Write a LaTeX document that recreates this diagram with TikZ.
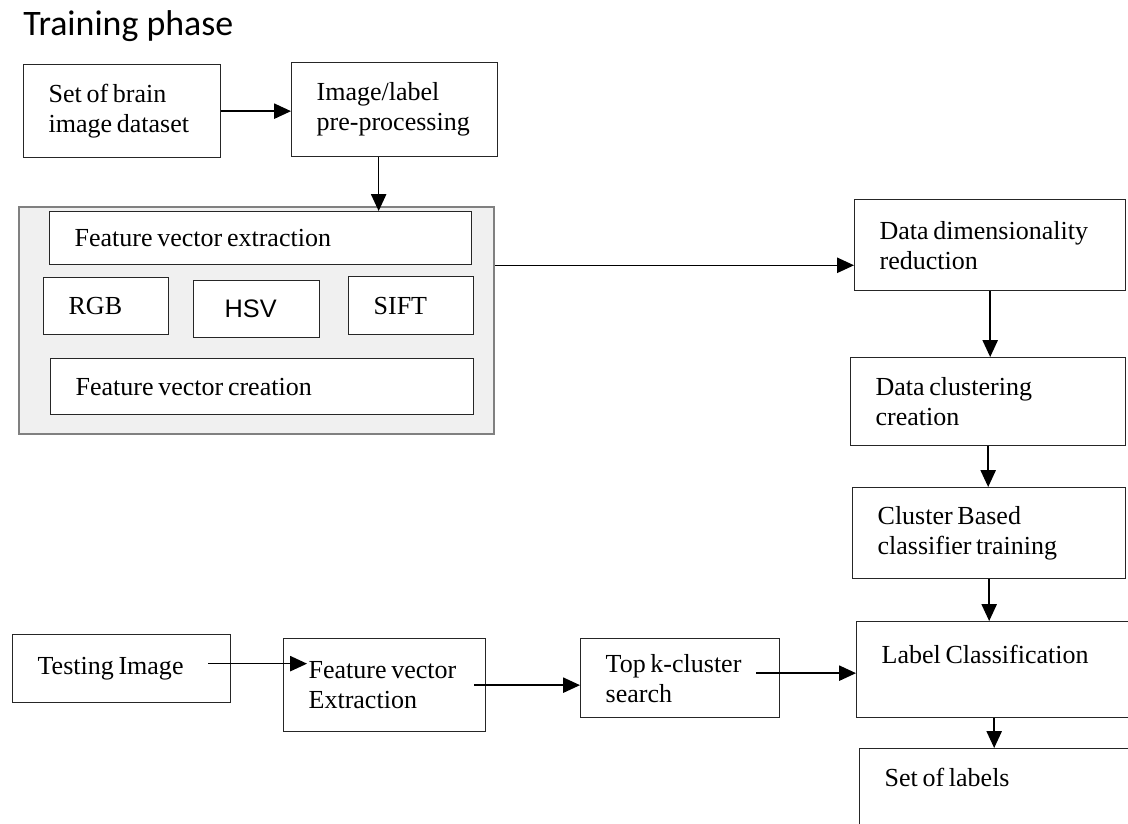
\documentclass[tikz,border=0pt]{standalone}
\usepackage{fontspec}
\setmainfont{Liberation Serif}
\newfontfamily\titlefont{Carlito}
\newfontfamily\hsvfont{Liberation Sans}
\usetikzlibrary{arrows.meta}

\begin{document}
\begin{tikzpicture}[x=0.025cm, y=-0.025cm,
  box/.style={draw=black!85, line width=0.9pt, fill=white, anchor=north west, align=left, inner xsep=0.625cm,
    font=\fontsize{18.5}{21.3}\selectfont, execute at begin node={\spaceskip=0.18em\relax}},
  group/.style={draw=gray, line width=1.6pt, fill=black!6, anchor=north west, inner sep=0pt},
  arr/.style={-{Triangle[length=0.42cm, width=0.38cm]}, line width=1pt}]

\useasboundingbox (0,0) rectangle (1128,823);

\node[anchor=base west, inner sep=0pt, font=\titlefont\fontsize{25.5}{29}\selectfont] (title) at (23,35) {Training phase};

% training part
\node[box, minimum width=4.925cm, minimum height=2.325cm, text width=3.675cm] (dataset) at (23,64) {Set of brain\\image dataset};
\node[box, minimum width=5.15cm, minimum height=2.35cm, text width=3.9cm] (preproc) at (291,62) {Image/label\\pre-processing};

\node[group, minimum width=11.875cm, minimum height=5.675cm] (features) at (18,206) {};
\node[box, minimum width=10.55cm, minimum height=1.325cm, text width=9.3cm] (fvext) at (49,211) {Feature vector extraction};
\node[box, minimum width=3.125cm, minimum height=1.425cm, text width=1.875cm] (rgb) at (43,277) {RGB};
\node[box, minimum width=3.15cm, minimum height=1.425cm, text width=1.9cm, font=\hsvfont\fontsize{18}{21.3}\selectfont] (hsv) at (193,280) {\hspace{0.15cm}HSV};
\node[box, minimum width=3.125cm, minimum height=1.45cm, text width=1.875cm] (sift) at (348,276) {SIFT};
\node[box, minimum width=10.575cm, minimum height=1.4cm, text width=9.325cm] (fvcre) at (50,358) {Feature vector creation};

\node[box, minimum width=6.775cm, minimum height=2.275cm, text width=5.525cm] (dimred) at (854,199) {Data dimensionality\\reduction};
\node[box, minimum width=6.875cm, minimum height=2.2cm, text width=5.625cm] (cluster) at (850,357) {Data clustering\\creation};
\node[box, minimum width=6.825cm, minimum height=2.275cm, text width=5.575cm] (train) at (852,487) {Cluster Based\\classifier training};

% testing part
\node[box, minimum width=5.45cm, minimum height=1.7cm, text width=4.2cm] (test) at (12,634) {Testing Image};
\node[box, minimum width=5.05cm, minimum height=2.325cm, text width=3.8cm] (fvext2) at (283,638) {Feature vector\\Extraction};
\node[box, minimum width=4.975cm, minimum height=1.975cm, text width=3.725cm] (topk) at (580,638) {Top k-cluster\\search};
\node[box, minimum width=6.875cm, minimum height=2.4cm, text width=5.625cm] (classify) at (856,621) {Label Classification\\\mbox{}};
\node[box, minimum width=6.8cm, minimum height=2.2cm, text width=5.55cm] (labels) at (859,748) {Set of labels\\\mbox{}};

\draw[arr] (dataset.east) -- (dataset.east -| preproc.west);
\draw[arr] ([xshift=-0.4cm]preproc.south) -- ([xshift=-0.4cm]preproc.south |- fvext.north);
\draw[arr] (fvext.south -| features.east) -- (fvext.south -| dimred.west);
\draw[arr] (dimred.south) -- (dimred.south |- cluster.north);
\draw[arr] (cluster.south) -- (cluster.south |- train.north);
\draw[arr] (train.south) -- (train.south |- classify.north);
\draw[arr] (classify.south) -- (classify.south |- labels.north);

\draw[arr] ([xshift=-0.575cm, yshift=0.125cm]test.east) coordinate (t1) -- ([xshift=0.6cm]fvext2.west |- t1);
\draw[arr] ([xshift=-0.3cm]fvext2.east) -- (fvext2.east -| topk.west);
\draw[arr] ([xshift=-0.6cm, yshift=0.125cm]topk.east) coordinate (t2) -- (t2 -| classify.west);

\end{tikzpicture}
\end{document}
